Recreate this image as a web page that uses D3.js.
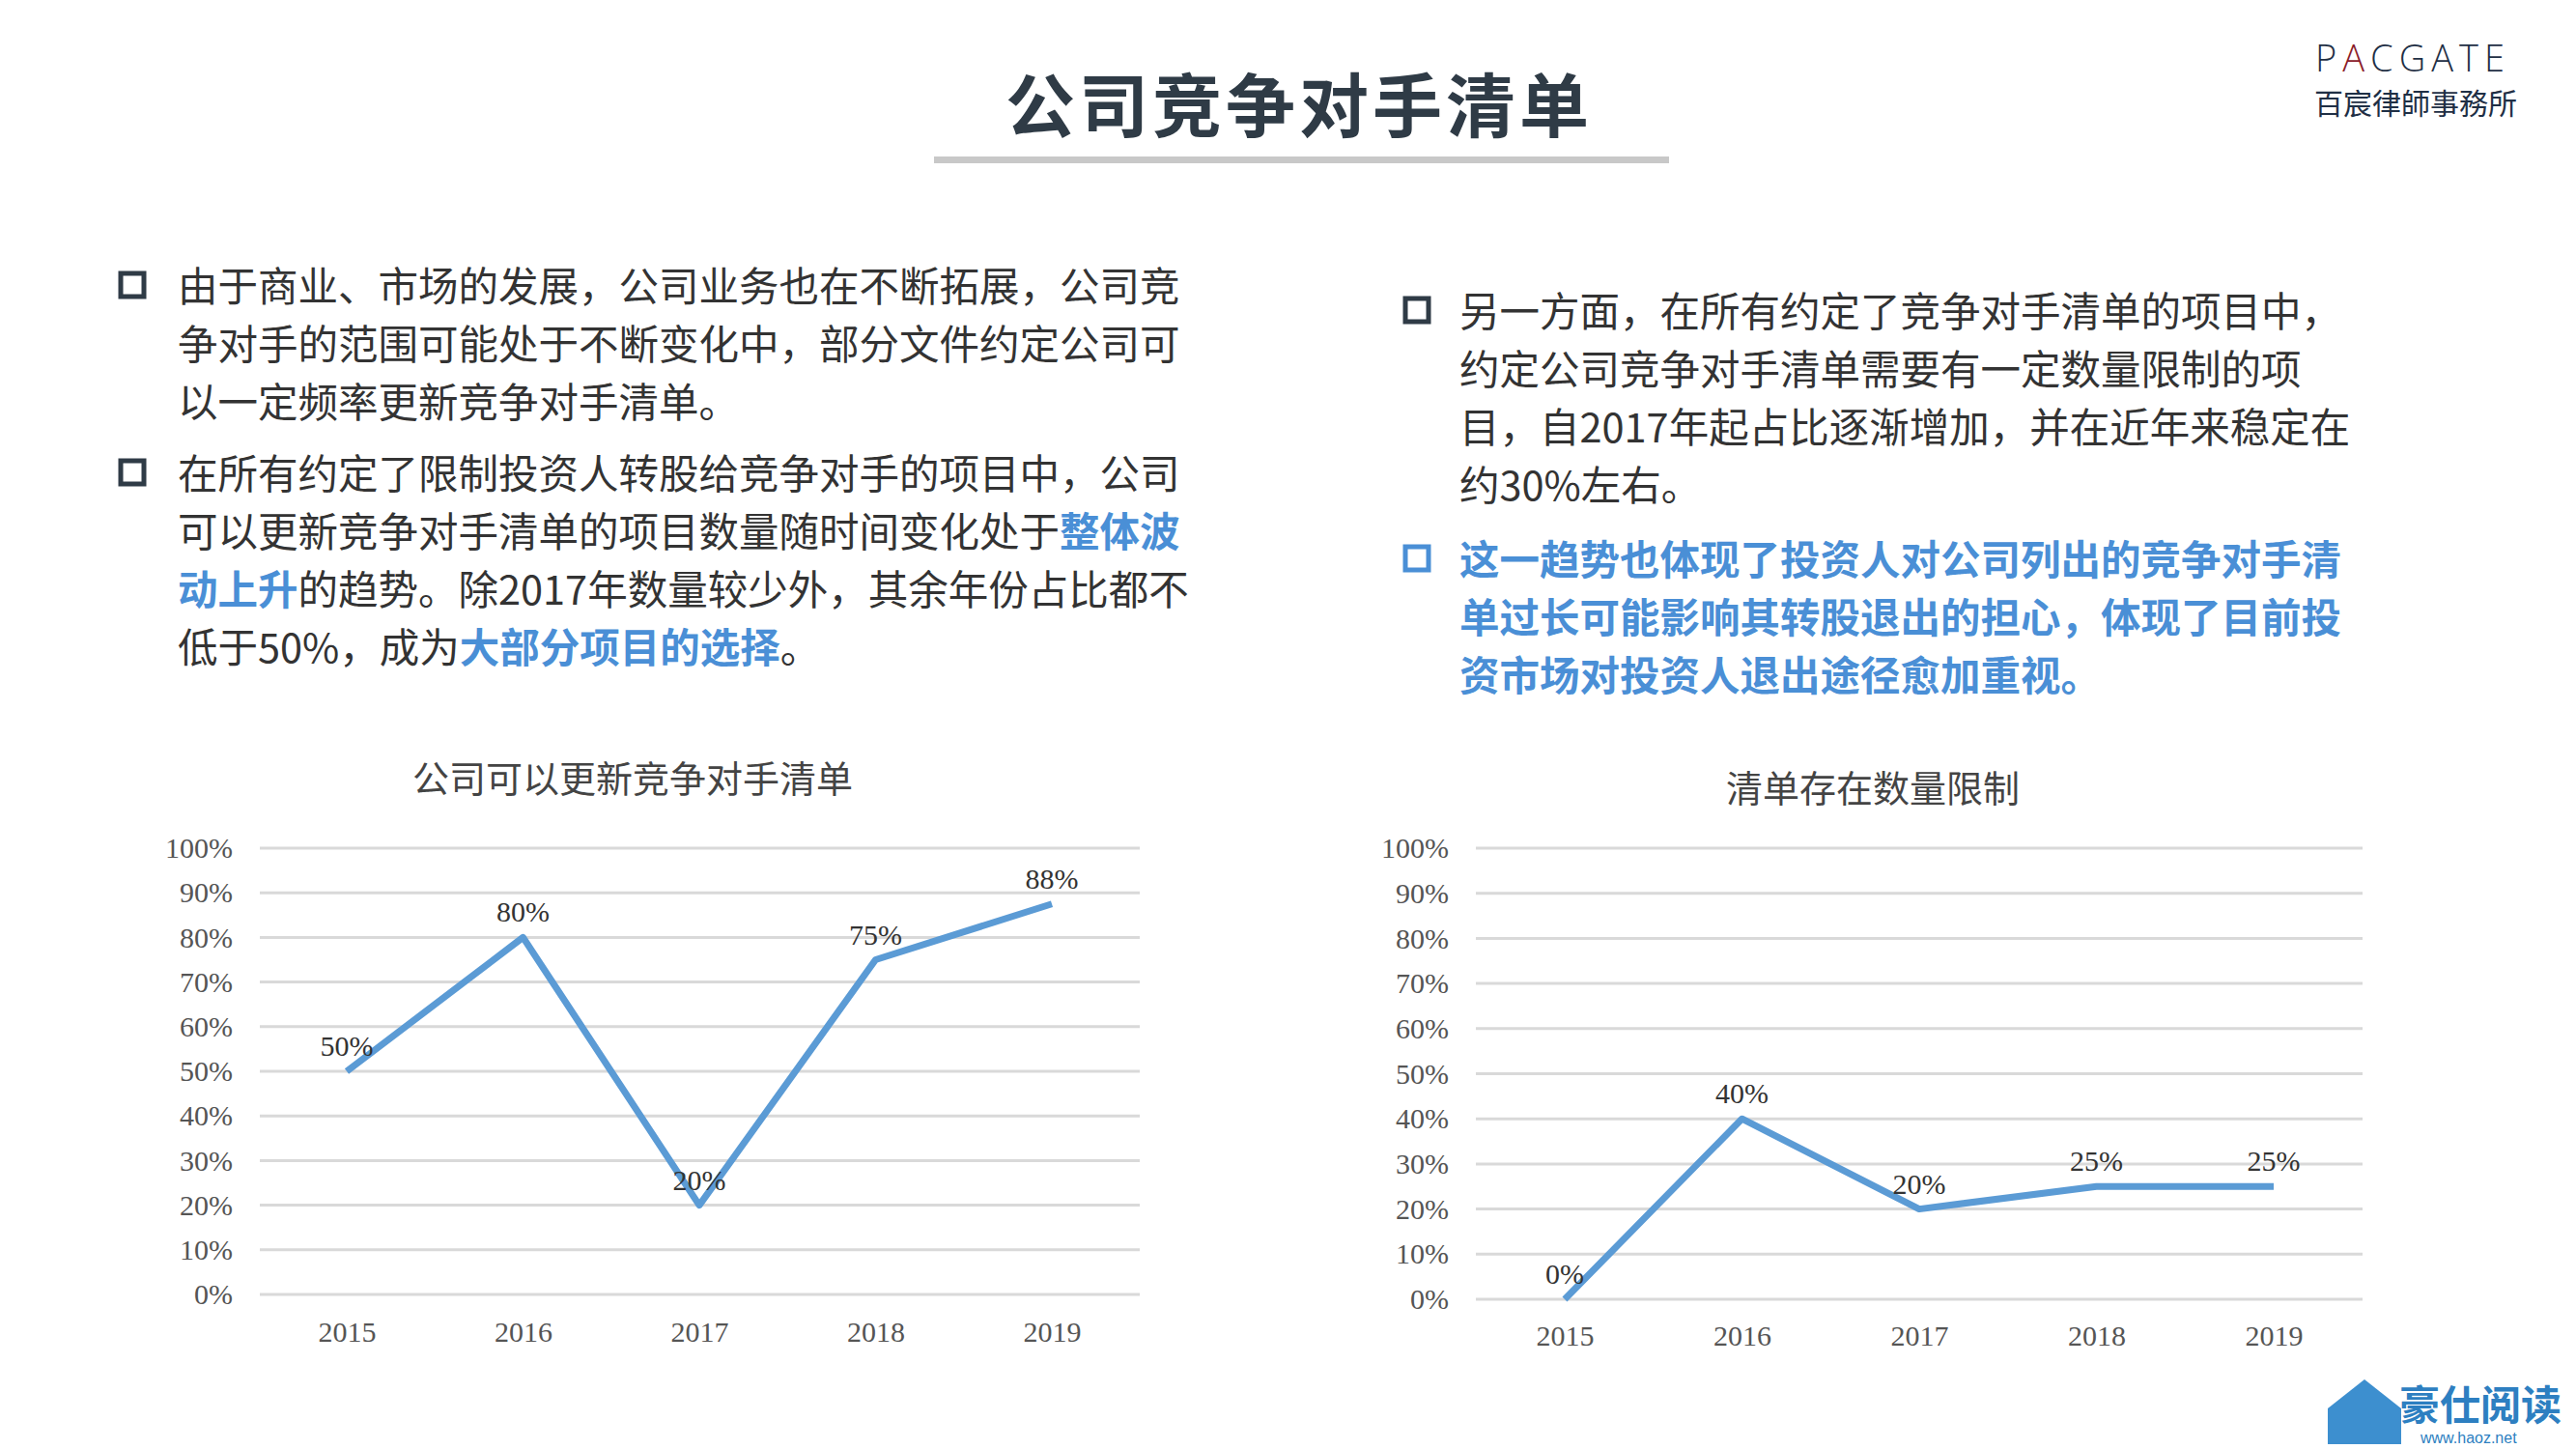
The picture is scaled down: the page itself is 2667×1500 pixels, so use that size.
<!DOCTYPE html>
<html><head><meta charset="utf-8">
<script src="https://cdn.jsdelivr.net/npm/d3@7"></script>
<style>body{margin:0;background:#fff}</style></head>
<body><svg id="c" width="2667" height="1500"></svg>
<script>
const years = ["2015","2016","2017","2018","2019"];
const updatable = [0.50,0.80,0.20,0.75,0.875];
const updatableLabels = ["50%","80%","20%","75%","88%"];
const limited = [0.00,0.40,0.20,0.25,0.25];
const limitedLabels = ["0%","40%","20%","25%","25%"];
const yTicks = [0,0.1,0.2,0.3,0.4,0.5,0.6,0.7,0.8,0.9,1.0];

const svg = d3.select("#c");
const CJK = "'Noto Sans CJK SC', sans-serif";
const SERIF = "'Liberation Serif', 'Noto Serif CJK SC', serif";

svg.append("text").attr("x",1345).attr("y",136).attr("text-anchor","middle")
  .attr("font-family",CJK).attr("font-weight","bold").attr("font-size",72).attr("fill","#2f3b46")
  .attr("letter-spacing",4).text("公司竞争对手清单");
svg.append("rect").attr("x",967).attr("y",162).attr("width",761).attr("height",7).attr("fill","#c8c8c8");

// logo
svg.append("text").attr("x",2397).attr("y",74).attr("font-family","'Open Sans',sans-serif").attr("font-weight",300)
  .attr("font-size",38).attr("letter-spacing",6).attr("fill","#1f2f45")
  .html('P<tspan fill="#8b1c2a">A</tspan>CGATE');
svg.append("text").attr("x",2396).attr("y",118).attr("font-family",CJK)
  .attr("font-size",30).attr("fill","#1f2f45").text("百宸律師事務所");

function para(x, bx, lines, y0, lh, bold){
  lines.forEach((ln,i)=>{
    const t = svg.append("text").attr("x",x).attr("y",y0+i*lh).attr("font-family",CJK)
      .attr("font-size",41.5).attr("fill", bold?"#4a8fd6":"#333").attr("font-weight",bold?"bold":"normal");
    ln.forEach(seg=>{
      const s = t.append("tspan").text(seg.t||seg);
      if(seg.b){s.attr("fill","#4a8fd6").attr("font-weight","bold");}
    });
  });
  svg.append("rect").attr("x",bx).attr("y",y0-29).attr("width",24).attr("height",24)
    .attr("fill","none").attr("stroke", bold?"#4a8fd6":"#2f3b46").attr("stroke-width",5);
}
para(184,125,[["由于商业、市场的发展，公司业务也在不断拓展，公司竞"],["争对手的范围可能处于不断变化中，部分文件约定公司可"],["以一定频率更新竞争对手清单。"]],312,60,false);
para(184,125,[["在所有约定了限制投资人转股给竞争对手的项目中，公司"],["可以更新竞争对手清单的项目数量随时间变化处于",{t:"整体波",b:true}],[{t:"动上升",b:true},"的趋势。除2017年数量较少外，其余年份占比都不"],["低于50%，成为",{t:"大部分项目的选择",b:true},"。"]],506,60,false);
para(1511,1455,[["另一方面，在所有约定了竞争对手清单的项目中，"],["约定公司竞争对手清单需要有一定数量限制的项"],["目，自2017年起占比逐渐增加，并在近年来稳定在"],["约30%左右。"]],338,60,false);
para(1511,1455,[["这一趋势也体现了投资人对公司列出的竞争对手清"],["单过长可能影响其转股退出的担心，体现了目前投"],["资市场对投资人退出途径愈加重视。"]],595,60,true);

function chart(o){
  const x = d3.scalePoint().domain(years).range([o.x0,o.x1]);
  const y = d3.scaleLinear().domain([0,1]).range([o.yb,o.yt]);
  const g = svg.append("g");
  g.append("text").attr("x",o.tx).attr("y",o.ty).attr("text-anchor","middle").attr("font-family",CJK)
    .attr("font-size",38).attr("fill","#444").text(o.title);
  g.selectAll(".gl").data(yTicks).join("line").attr("x1",o.gx0).attr("x2",o.gx1)
    .attr("y1",d=>y(d)).attr("y2",d=>y(d)).attr("stroke","#d9d9d9").attr("stroke-width",3);
  const ya = d3.axisLeft(y).tickValues(yTicks).tickFormat(d3.format(".0%")).tickSize(0).tickPadding(0);
  const ag = g.append("g").attr("transform",`translate(${o.gx0-28},0)`).call(ya);
  ag.select(".domain").remove();
  ag.selectAll("text").attr("font-family",SERIF).attr("font-size",30).attr("fill","#555");
  const xa = d3.axisBottom(x).tickSize(0).tickPadding(0);
  const xg = g.append("g").attr("transform",`translate(0,${o.xy})`).call(xa);
  xg.select(".domain").remove();
  xg.selectAll("text").attr("font-family",SERIF).attr("font-size",30).attr("fill","#555");
  g.append("path").datum(o.vals).attr("fill","none").attr("stroke","#5b9bd5").attr("stroke-width",7)
    .attr("stroke-linejoin","round")
    .attr("d",d3.line().x((d,i)=>x(years[i])).y(d=>y(d)));
  g.selectAll(".lb").data(o.vals).join("text").attr("x",(d,i)=>x(years[i]))
    .attr("y",d=>y(d)-16).attr("text-anchor","middle").attr("font-family",SERIF)
    .attr("font-size",30).attr("fill","#333").text((d,i)=>o.labels[i]);
}
chart({x0:359,x1:1089,gx0:269,gx1:1180,yt:878,yb:1340,xy:1368,tx:655,ty:820,title:"公司可以更新竞争对手清单",vals:updatable,labels:updatableLabels});
chart({x0:1620,x1:2354,gx0:1528,gx1:2446,yt:878,yb:1345,xy:1372,tx:1939,ty:830,title:"清单存在数量限制",vals:limited,labels:limitedLabels});

// watermark
svg.append("path").attr("d","M2410,1458 L2448,1428 L2486,1458 L2486,1495 L2410,1495 Z").attr("fill","#3d8fcf");
svg.append("text").attr("x",2484).attr("y",1470).attr("font-family",CJK).attr("font-weight","bold")
  .attr("font-size",42).attr("fill","#2d7fc1").text("豪仕阅读");
svg.append("text").attr("x",2506).attr("y",1494).attr("font-family","sans-serif")
  .attr("font-size",16).attr("fill","#2d7fc1").text("www.haoz.net");
</script></body></html>
